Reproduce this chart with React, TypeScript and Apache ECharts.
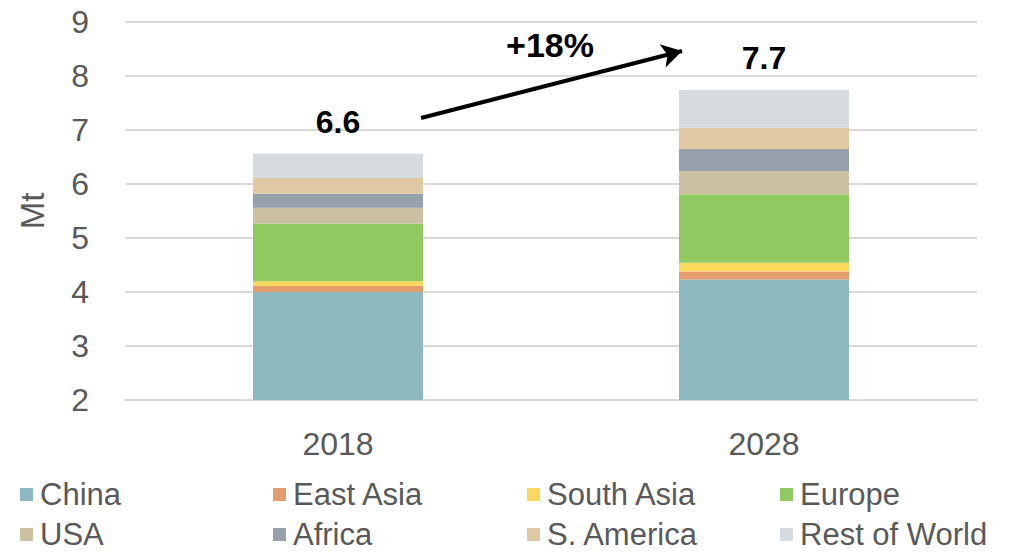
import React, { useEffect, useRef } from "react";
import * as echarts from "echarts";

const years = ["2018", "2028"];
const regions = ["China", "East Asia", "South Asia", "Europe", "USA", "Africa", "S. America", "Rest of World"];
const china = [4.0, 4.23];
const eastAsia = [0.11, 0.15];
const southAsia = [0.09, 0.16];
const europe = [1.07, 1.27];
const usa = [0.29, 0.43];
const africa = [0.26, 0.41];
const sAmerica = [0.29, 0.39];
const restOfWorld = [0.45, 0.7];
const yTicks = [2, 3, 4, 5, 6, 7, 8, 9];

const seriesValues = [china, eastAsia, southAsia, europe, usa, africa, sAmerica, restOfWorld];
const colors = ["#8DB8BF", "#E39C6E", "#FDD85E", "#8FC960", "#CBC0A2", "#97A1AC", "#DFC8A3", "#D5DBDF"];
const legendPos = [
  [20, 479], [273, 479], [527, 479], [780, 479],
  [20, 519], [273, 519], [527, 519], [780, 519],
];

export default function App() {
  const ref = useRef<HTMLDivElement>(null);
  useEffect(() => {
    document.body.style.margin = "0";
    const chart = echarts.init(ref.current!, null, { renderer: "svg" });
    const totals = years.map((_, i) => seriesValues.reduce((s, arr) => s + arr[i], 0));
    const growth = Math.round((totals[1] / totals[0] - 1) * 100);
    const font = "'Liberation Sans', Arial, sans-serif";
    const series: any[] = regions.map((name, k) => ({
      name,
      type: "bar",
      stack: "total",
      barWidth: 170,
      data: seriesValues[k],
      itemStyle: { color: colors[k] },
      label:
        k === regions.length - 1
          ? {
              show: true,
              position: "top",
              distance: 16,
              fontSize: 32,
              fontWeight: "bold",
              color: "#000",
              fontFamily: font,
              formatter: (p: any) => totals[p.dataIndex].toFixed(1),
            }
          : { show: false },
      markLine:
        k === regions.length - 1
          ? {
              silent: true,
              symbol: ["none", "arrow"],
              symbolSize: [18, 20],
              label: { show: false },
              lineStyle: { color: "#000", width: 4, type: "solid" },
              data: [[{ x: 421, y: 118 }, { x: 682, y: 51 }]],
            }
          : undefined,
    }));
    chart.setOption({
      animation: false,
      textStyle: { fontFamily: font },
      grid: { left: 125, right: 32, top: 22, bottom: 152 },
      legend: regions.map((name, k) => ({
        data: [name],
        left: legendPos[k][0],
        top: legendPos[k][1],
        padding: 0,
        icon: "rect",
        itemWidth: 13,
        itemHeight: 13,
        itemGap: 0,
        selectedMode: false,
        textStyle: {
          fontSize: 31,
          lineHeight: 31,
          color: "#595959",
          fontFamily: font,
          padding: [0, 0, 0, 2],
        },
      })),
      graphic: [
        {
          type: "text",
          x: 550,
          y: 45,
          style: {
            text: `+${growth}%`,
            fontSize: 34,
            fontWeight: "bold",
            fill: "#000",
            fontFamily: font,
            align: "center",
            verticalAlign: "middle",
          },
        },
      ],
      xAxis: {
        type: "category",
        data: years,
        axisLine: { lineStyle: { color: "#D9D9D9", width: 2 } },
        axisTick: { show: false },
        axisLabel: { fontSize: 32, color: "#595959", margin: 28, fontFamily: font },
      },
      yAxis: {
        type: "value",
        min: yTicks[0],
        max: yTicks[yTicks.length - 1],
        interval: 1,
        name: "Mt",
        nameLocation: "middle",
        nameRotate: 90,
        nameGap: 76,
        nameTextStyle: { fontSize: 33, color: "#595959", fontFamily: font },
        axisLine: { show: false },
        axisTick: { show: false },
        axisLabel: { fontSize: 32, color: "#595959", margin: 36, fontFamily: font },
        splitLine: { lineStyle: { color: "#D9D9D9", width: 2 } },
      },
      series,
    });
    return () => chart.dispose();
  }, []);
  return <div ref={ref} style={{ width: 1009, height: 552 }} />;
}
